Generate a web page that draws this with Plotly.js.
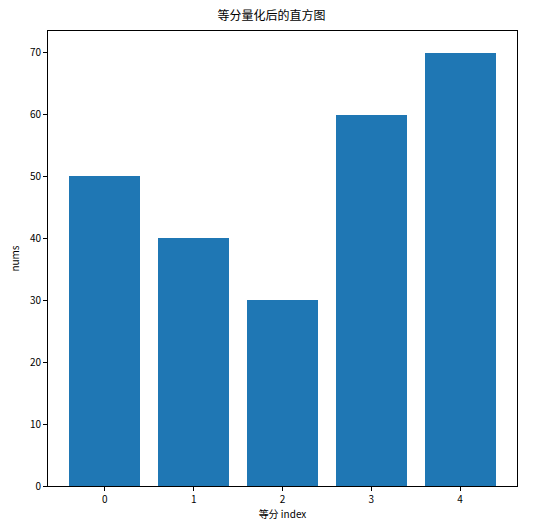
<!DOCTYPE html>
<html>
<head>
<meta charset="utf-8">
<script src="https://cdn.plot.ly/plotly-3.0.1.min.js"></script>
<style>html,body{margin:0;padding:0;background:#fff;}#chart{width:543px;height:530px;}</style>
</head>
<body>
<div id="chart"></div>
<script>
const categories = [0, 1, 2, 3, 4];
const nums = [50, 40, 30, 60, 70];
const xTickLabels = ["0", "1", "2", "3", "4"];
const yTicks = [0, 10, 20, 30, 40, 50, 60, 70];

const font = "'Noto Sans CJK SC', 'DejaVu Sans', sans-serif";
const trace = {
  type: 'bar',
  x: categories,
  y: nums,
  width: 0.8,
  marker: {color: '#1f77b4'},
  hoverinfo: 'none'
};
const layout = {
  width: 543, height: 530,
  margin: {l: 48, r: 26, t: 31, b: 44, pad: 0},
  paper_bgcolor: '#fff', plot_bgcolor: '#fff',
  font: {family: font, size: 10, color: '#000'},
  title: {text: '等分量化后的直方图', font: {family: font, size: 12, color: '#000'}, x: 0.5, xanchor: 'center', y: 1, yref: 'container', yanchor: 'top', pad: {t: 12}},
  showlegend: false,
  bargap: 0,
  xaxis: {
    range: [-0.64, 4.64],
    tickvals: categories, ticktext: xTickLabels,
    ticks: 'outside', ticklen: 4, tickcolor: '#000', tickwidth: 1,
    showgrid: false, zeroline: false,
    showline: true, linecolor: '#000', linewidth: 1, mirror: true,
    tickfont: {size: 10, color: '#000'},
    title: {text: '等分 index', font: {size: 10, color: '#000'}, standoff: 5}
  },
  yaxis: {
    range: [0, 73.5],
    tickvals: yTicks,
    ticks: 'outside', ticklen: 4, tickcolor: '#000', tickwidth: 1,
    showgrid: false, zeroline: false,
    showline: true, linecolor: '#000', linewidth: 1, mirror: true,
    tickfont: {size: 10, color: '#000'},
    title: {text: 'nums', font: {size: 10, color: '#000'}, standoff: 8}
  }
};
Plotly.newPlot('chart', [trace], layout, {staticPlot: true, displayModeBar: false});
</script>
</body>
</html>
